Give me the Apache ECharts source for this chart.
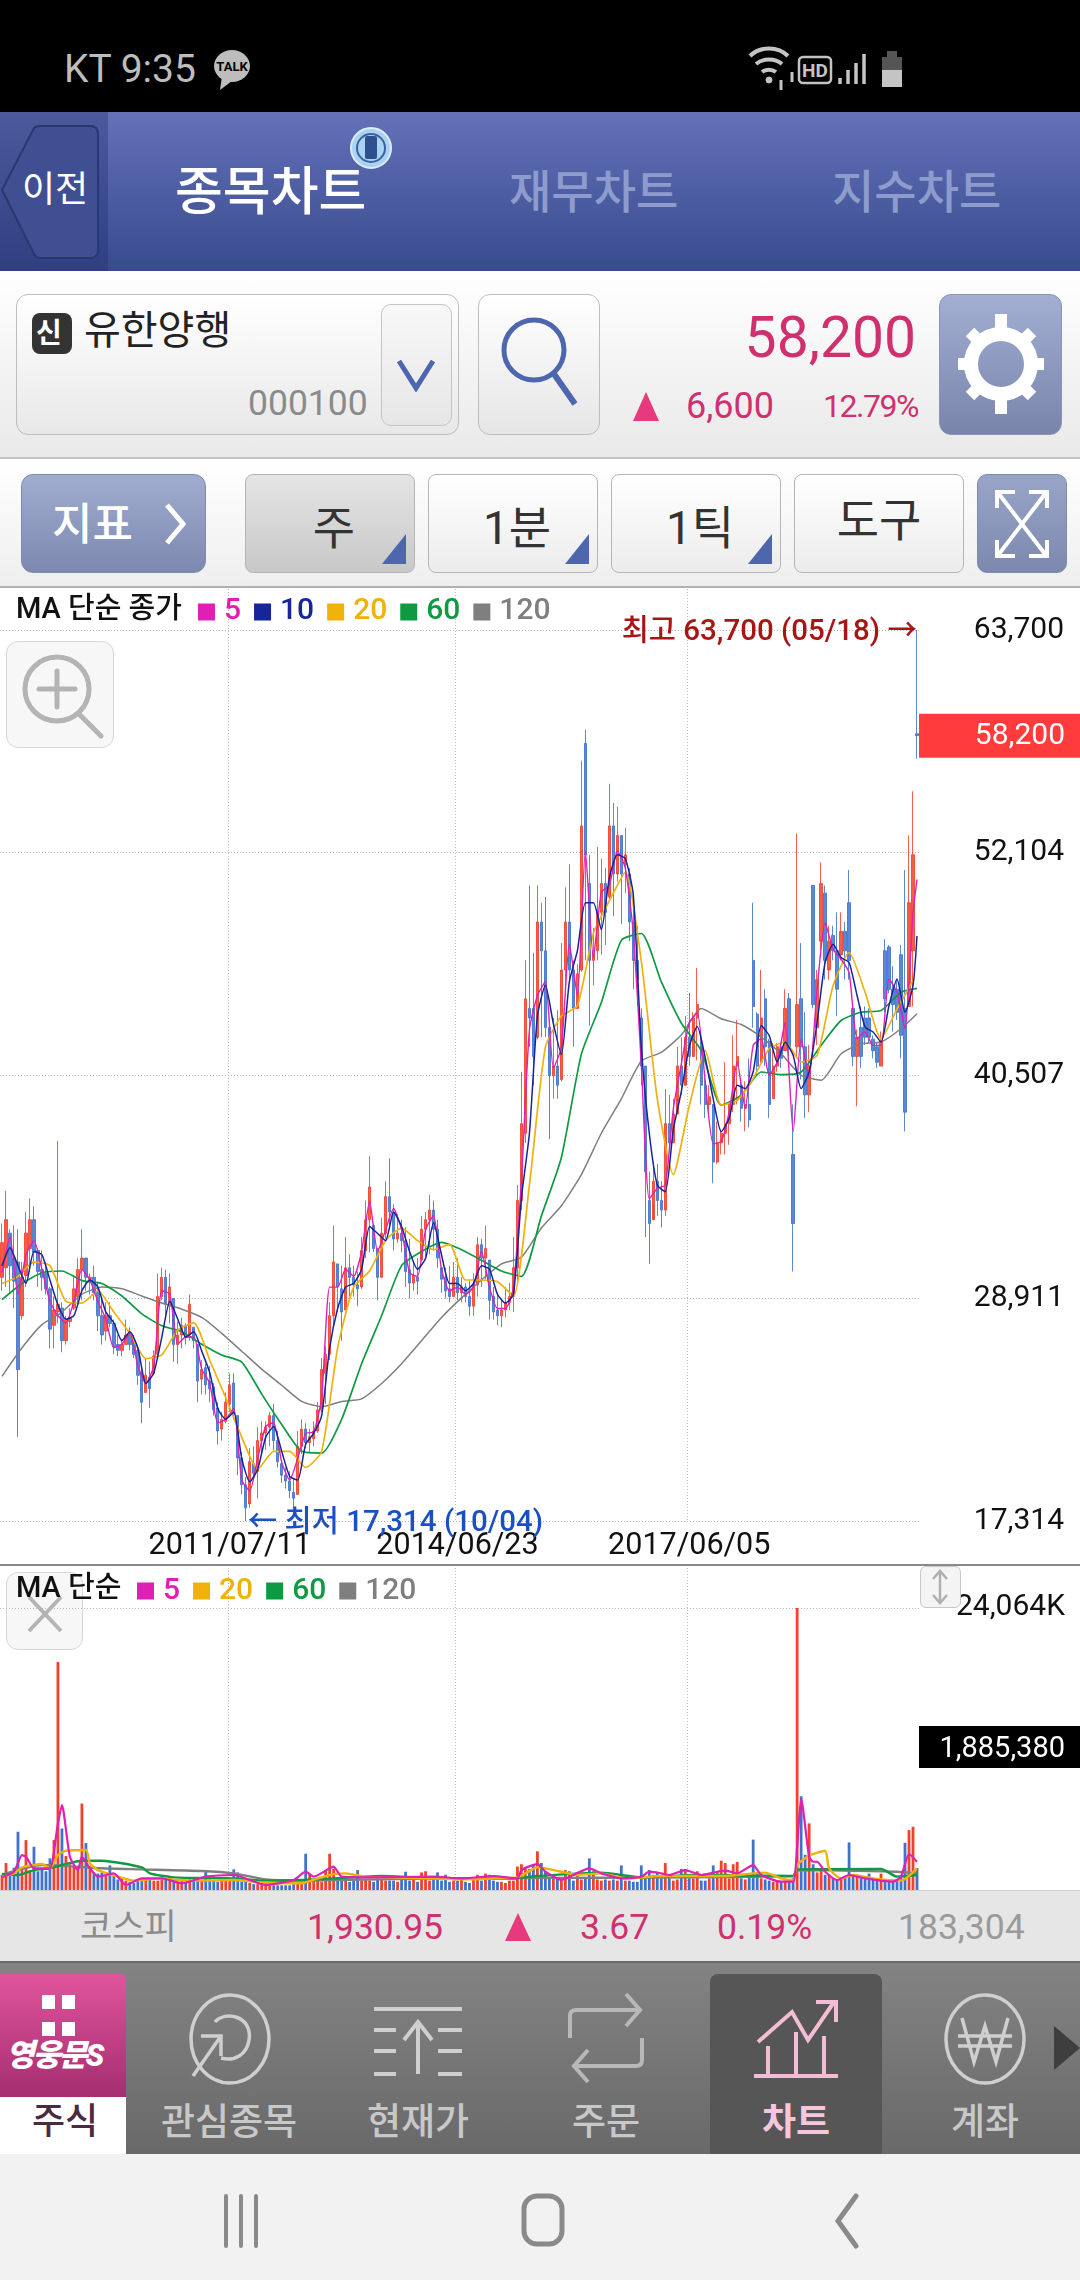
<!DOCTYPE html>
<html lang="ko">
<head>
<meta charset="utf-8">
<title>유한양행 종목차트</title>
<script src="https://cdn.jsdelivr.net/npm/echarts@6/dist/echarts.min.js"></script>
<style>
html,body{margin:0;padding:0;background:#fff}
#page{position:relative;width:1080px;height:2280px;overflow:hidden;font-family:Roboto,"Noto Sans CJK KR",sans-serif}
.b,.t,svg{position:absolute}
.b{box-sizing:border-box}
.t{white-space:nowrap;line-height:1}
.tool{top:474px;height:99px;border:1px solid #b5b5b5;border-radius:8px;background:linear-gradient(#fff,#ececec)}
.tool span{position:absolute;left:8px;right:0;top:30px;text-align:center;font-size:46px;line-height:1;color:#333}
.tool i{position:absolute;right:8px;bottom:8px;width:0;height:0;border-left:24px solid transparent;border-bottom:30px solid #4d66ae}
.nav{top:2104px;width:170px;text-align:center;font-size:37px;color:#c8c8c8;font-weight:500}
#chart{position:absolute;left:0;top:586px;width:1080px;height:1304px}
</style>
</head>
<body>
<div id="page">
  <!-- status bar -->
  <div class="b" style="left:0;top:0;width:1080px;height:112px;background:#000"></div>
  <div class="t" style="left:64px;top:50px;font-size:39px;color:#bdbdbd">KT 9:35</div>
  <svg style="left:212px;top:44px" width="40" height="48" viewBox="0 0 40 48"><ellipse cx="20" cy="22" rx="18" ry="16" fill="#bdbdbd"/><path d="M10 32l-2 14 12-9z" fill="#bdbdbd"/><text x="20" y="27" font-size="13" font-weight="700" text-anchor="middle" fill="#000">TALK</text></svg>
  <svg style="left:745px;top:42px" width="165" height="50" viewBox="0 0 165 50" fill="none" stroke="#c4c4c4"><path d="M5 14c10-10 28-10 38 0M11 22c7-6 19-6 26 0M17 30c4-3 10-3 14 0" stroke-width="4"/><circle cx="24" cy="38" r="3" fill="#c4c4c4"/><path d="M36 38v10M47 30v10" stroke-width="3"/><rect x="54" y="15" width="32" height="26" rx="4" stroke-width="2.5"/><text x="70" y="35" font-size="19" font-weight="700" text-anchor="middle" fill="#c4c4c4" stroke="none">HD</text><path d="M95 42v-6M103 42v-14M111 42v-21M119 42v-30" stroke-width="3.5"/><rect x="137" y="15" width="20" height="30" fill="#c4c4c4" stroke="none"/><rect x="137" y="15" width="20" height="13" fill="#555" stroke="none"/><rect x="142" y="9" width="10" height="6" fill="#555" stroke="none"/></svg>

  <!-- header tabs -->
  <div class="b" style="left:0;top:112px;width:1080px;height:159px;background:linear-gradient(#6472b8,#384a8e)"></div>
  <div class="b" style="left:0;top:112px;width:108px;height:159px;background:linear-gradient(#4a5a9c,#2f3f82)"></div>
  <svg style="left:0;top:124px" width="100" height="136" viewBox="0 0 100 136"><path d="M2 66L34 4q2-2 6-2h50q8 0 8 8v116q0 8-8 8H40q-4 0-6-4z" fill="#3f4f92" stroke="#2a3870" stroke-width="2"/></svg>
  <div class="t" style="left:22px;top:172px;font-size:36px;color:#fff">이전</div>
  <div class="t" style="left:175px;top:167px;font-size:52px;color:#fff;font-weight:500">종목차트</div>
  <div class="t" style="left:509px;top:169px;font-size:46px;color:#8e9bcd;font-weight:500">재무차트</div>
  <div class="t" style="left:832px;top:169px;font-size:46px;color:#8e9bcd;font-weight:500">지수차트</div>
  <svg style="left:349px;top:126px" width="44" height="44" viewBox="0 0 44 44"><circle cx="22" cy="22" r="20" fill="#a9d3f2" stroke="#dcedfa" stroke-width="2"/><circle cx="22" cy="22" r="14" fill="none" stroke="#3f5f9f" stroke-width="2"/><rect x="16" y="10" width="12" height="23" rx="2" fill="#2f4f8f"/></svg>

  <!-- stock row -->
  <div class="b" style="left:0;top:271px;width:1080px;height:188px;background:linear-gradient(#fff,#e9e9e9);border-bottom:2px solid #c4c4c4"></div>
  <div class="b" style="left:16px;top:294px;width:443px;height:141px;border:1px solid #bdbdbd;border-radius:12px;background:linear-gradient(#fff,#e8e8e8)"></div>
  <div class="b" style="left:32px;top:313px;width:40px;height:41px;border-radius:8px;background:#333"></div>
  <div class="t" style="left:36px;top:320px;font-size:28px;color:#fff;font-weight:700">신</div>
  <div class="t" style="left:84px;top:311px;font-size:40px;color:#222">유한양행</div>
  <div class="t" style="left:248px;top:386px;font-size:35.5px;color:#8a8a8a">000100</div>
  <div class="b" style="left:381px;top:304px;width:71px;height:122px;border:1px solid #c4c4c4;border-radius:10px;background:linear-gradient(#f8f8f8,#e6e6e6)"></div>
  <svg style="left:396px;top:358px" width="40" height="34" viewBox="0 0 40 34"><path d="M3 3l17 27L37 3" fill="none" stroke="#4d66ae" stroke-width="5"/></svg>
  <div class="b" style="left:478px;top:294px;width:122px;height:141px;border:1px solid #bdbdbd;border-radius:12px;background:linear-gradient(#fff,#e6e6e6)"></div>
  <svg style="left:498px;top:312px" width="84" height="100" viewBox="0 0 84 100" fill="none" stroke="#4d66ae"><circle cx="36" cy="38" r="30" stroke-width="5"/><path d="M56 62l21 30" stroke-width="6"/></svg>
  <div class="t" style="right:164px;top:309px;font-size:57px;color:#d0306f">58,200</div>
  <svg style="left:632px;top:392px" width="28" height="30"><path d="M14 0L27 29H1z" fill="#e8387e"/></svg>
  <div class="t" style="left:686px;top:388px;font-size:36px;color:#d0306f">6,600</div>
  <div class="t" style="left:823px;top:390px;font-size:32px;color:#d0306f;letter-spacing:-1.5px">12.79%</div>
  <div class="b" style="left:939px;top:294px;width:123px;height:141px;border:1px solid #8a94b4;border-radius:12px;background:linear-gradient(#a2aed2,#7984ab)"></div>
  <svg style="left:954px;top:310px" width="94" height="108" viewBox="0 0 94 108"><circle cx="47" cy="54" r="30" fill="none" stroke="#fff" stroke-width="14"/><g stroke="#fff" stroke-width="12"><path d="M47 4v14M47 90v14M4 54h14M76 54h14M16 22l10 10M68 76l10 10M78 22L68 32M26 76L16 86"/></g></svg>

  <!-- period row -->
  <div class="b" style="left:0;top:460px;width:1080px;height:126px;background:linear-gradient(#fff,#eee)"></div>
  <div class="b" style="left:21px;top:474px;width:185px;height:99px;border:1px solid #7f8ab0;border-radius:12px;background:linear-gradient(#a0acd0,#7d88ae)"></div>
  <div class="t" style="left:52px;top:503px;font-size:44px;color:#fff;font-weight:500">지표</div>
  <svg style="left:162px;top:502px" width="28" height="44"><path d="M5 3l16 19L5 41" fill="none" stroke="#fff" stroke-width="5"/></svg>
  <div class="b tool" style="left:245px;width:170px;background:linear-gradient(#e4e4e4,#c8c8c8)"><span>주</span><i></i></div>
  <div class="b tool" style="left:428px;width:170px"><span>1분</span><i></i></div>
  <div class="b tool" style="left:611px;width:170px"><span>1틱</span><i></i></div>
  <div class="b tool" style="left:794px;width:170px"><span style="left:0;top:22px">도구</span></div>
  <div class="b" style="left:977px;top:474px;width:90px;height:99px;border:1px solid #7f8ab0;border-radius:10px;background:linear-gradient(#98a4c8,#7d88ae)"></div>
  <svg style="left:993px;top:488px" width="58" height="72" viewBox="0 0 58 72" fill="none" stroke="#fff" stroke-width="4"><path d="M4 20V4h18M54 20V4H36M4 52v16h18M54 52v16H36M6 6l46 60M52 6L6 66"/></svg>

  <!-- buttons that sit under the chart text -->
  <div class="b" style="left:6px;top:1572px;width:77px;height:78px;border:1px solid #d6d6d6;border-radius:12px;background:#f7f7f7"></div>
  <svg style="left:26px;top:1594px" width="38" height="40"><path d="M3 3l32 34M35 3L3 37" stroke="#b4b4b4" stroke-width="4" fill="none"/></svg>

  <div id="chart"></div>

  <!-- chart overlay buttons -->
  <div class="b" style="left:0;top:586px;width:1080px;height:2px;background:#b0b0b0"></div>
  <div class="b" style="left:0;top:1564px;width:1080px;height:2px;background:#8a8a8a"></div>
  <div class="b" style="left:6px;top:641px;width:108px;height:107px;border:1px solid #d6d6d6;border-radius:12px;background:rgba(247,247,247,.95)"></div>
  <svg style="left:20px;top:652px" width="84" height="90" viewBox="0 0 84 90" fill="none" stroke="#b4b4b4" stroke-width="5"><circle cx="37" cy="37" r="32"/><path d="M19 37h36M37 19v36M59 62l22 22" stroke-linecap="round"/></svg>
  <div class="b" style="left:920px;top:1566px;width:41px;height:42px;border:1px solid #c8c8c8;border-radius:6px;background:#f4f4f4"></div>
  <svg style="left:930px;top:1569px" width="20" height="36"><path d="M10 2v32M3 10l7-8 7 8M3 26l7 8 7-8" stroke="#b0b0b0" stroke-width="2.5" fill="none"/></svg>

  <!-- index bar -->
  <div class="b" style="left:0;top:1890px;width:1080px;height:71px;background:#e6e6e6;border-top:1px solid #d0d0d0"></div>
  <div class="t" style="left:80px;top:1910px;font-size:35px;color:#8c8c8c">코스피</div>
  <div class="t" style="left:307px;top:1910px;font-size:35.5px;color:#d0306f">1,930.95</div>
  <svg style="left:504px;top:1913px" width="28" height="29"><path d="M14 0L27 28H1z" fill="#e8387e"/></svg>
  <div class="t" style="left:580px;top:1910px;font-size:35.5px;color:#d0306f">3.67</div>
  <div class="t" style="left:717px;top:1910px;font-size:35.5px;color:#d0306f">0.19%</div>
  <div class="t" style="left:898px;top:1910px;font-size:35.5px;color:#9a9a9a">183,304</div>

  <!-- bottom menu -->
  <div class="b" style="left:0;top:1961px;width:1080px;height:193px;background:linear-gradient(#838383,#696969);border-top:2px solid #6a6a6a"></div>
  <div class="b" style="left:710px;top:1974px;width:172px;height:180px;border-radius:8px 8px 0 0;background:#565656"></div>
  <div class="b" style="left:0;top:1974px;width:126px;height:123px;border-radius:0 6px 0 0;background:linear-gradient(#e0559c,#a52d70)"></div>
  <div class="b" style="left:0;top:2097px;width:126px;height:57px;background:#fff"></div>
  <svg style="left:42px;top:1992px" width="34" height="56"><path d="M0 0h13v14H0zM20 0h13v14H20zM0 27h13v14H0zM20 27h13v14H20z" fill="#fff" transform="translate(0,3)"/></svg>
  <div class="t" style="left:6px;top:2040px;font-size:31px;color:#fff;font-weight:900;font-style:italic;letter-spacing:-2px">영웅문S</div>
  <div class="t" style="left:32px;top:2104px;font-size:36px;color:#4a2b40;font-weight:500">주식</div>
  <svg style="left:185px;top:1992px" width="90" height="96" viewBox="0 0 90 96" fill="none" stroke="#cfcfcf" stroke-width="3.5"><ellipse cx="45" cy="47" rx="39" ry="44"/><path d="M30 30c10-12 38-6 34 18-2 14-14 22-28 18"/><path d="M8 84l28-40M16 44h20v20"/></svg>
  <svg style="left:372px;top:2006px" width="92" height="72" viewBox="0 0 92 72" fill="none" stroke="#cfcfcf" stroke-width="4"><path d="M2 3h88M2 24h22M66 24h24M2 45h22M66 45h24M2 68h22M66 68h24M46 68V18M32 34l14-18 14 18"/></svg>
  <svg style="left:568px;top:1992px" width="76" height="92" viewBox="0 0 76 92" fill="none" stroke="#b8b8b8" stroke-width="4"><path d="M2 46V24q0-6 6-6h62M58 2l14 16-14 16M74 46v22q0 6-6 6H8M20 58L6 74l14 16"/></svg>
  <svg style="left:752px;top:1996px" width="90" height="84" viewBox="0 0 90 84" fill="none" stroke="#f2bdd5" stroke-width="4"><path d="M6 46l34-30 16 28 26-38M64 6h20v20M2 80h84M16 80V50M44 80V36M72 80V40"/></svg>
  <svg style="left:942px;top:1992px" width="86" height="94" viewBox="0 0 86 94" fill="none" stroke="#cfcfcf" stroke-width="3.5"><ellipse cx="43" cy="47" rx="39" ry="44"/><path d="M20 26l12 44 11-36 11 36 12-44M16 44h54M16 54h54"/></svg>
  <svg style="left:1054px;top:2026px" width="26" height="44"><path d="M0 0l26 22L0 44z" fill="#3e3e3e"/></svg>
  <div class="t nav" style="left:144px">관심종목</div>
  <div class="t nav" style="left:333px">현재가</div>
  <div class="t nav" style="left:521px">주문</div>
  <div class="t nav" style="left:711px;color:#f6c6dc;font-weight:700">차트</div>
  <div class="t nav" style="left:900px">계좌</div>

  <!-- system nav -->
  <div class="b" style="left:0;top:2154px;width:1080px;height:126px;background:#f2f2f2"></div>
  <svg style="left:222px;top:2194px" width="40" height="54"><path d="M4 2v50M19 2v50M34 2v50" stroke="#8a8a8a" stroke-width="4" stroke-linecap="round"/></svg>
  <svg style="left:520px;top:2192px" width="48" height="58"><rect x="4" y="4" width="38" height="48" rx="13" fill="none" stroke="#8a8a8a" stroke-width="5"/></svg>
  <svg style="left:832px;top:2192px" width="30" height="58"><path d="M24 4L6 29l18 25" fill="none" stroke="#8a8a8a" stroke-width="5" stroke-linecap="round"/></svg>
</div>

<script>
// x tick positions on the category axis and the date text shown there
const tickIndex = [57, 114, 172];
const tickDates = ["2011/07/11", "2014/06/23", "2017/06/05"];
const priceTicks = [17314, 28911, 40507, 52104, 63700];
const lastPrice = 58200;

const opens = [
	30000,30500,32300,31000,30800,28000,30100,31500,33000,31400,
	30400,30200,29400,27500,28200,28400,26700,27700,28400,29000,
	30400,31000,29900,30000,29200,28000,27200,28000,27600,26500,
	26200,26500,27000,26700,26200,25000,24000,24800,25000,26000,
	29000,30000,28500,28900,26500,27000,27500,27000,27400,26500,
	24700,25300,24600,24300,23200,22100,22500,23400,24500,22800,
	20600,19200,18200,20300,19900,21500,21900,22200,22800,21500,
	20300,19700,19400,18800,18700,21200,22100,21400,21600,22000,
	23100,25000,26000,28000,30700,29400,28300,30500,30000,29600,
	29500,31400,33000,32700,31500,30000,32300,34200,33400,32000,
	32300,31900,30400,29700,30000,30900,32500,33000,33500,32500,
	30500,30000,29400,29000,30000,29200,29500,29000,28500,29600,
	31700,31000,30900,29000,28300,28000,28300,28700,29000,30500,
	34000,37500,44000,44000,42500,48500,47000,43000,40500,41000,
	40300,46000,48500,46000,44000,46000,57800,50500,46500,47000,
	49000,50500,49800,53500,51000,53000,51500,51000,48500,46500,
	43500,41000,34000,33000,35000,34000,33500,38000,37000,38500,
	41000,40000,42500,41500,43500,42000,40000,39000,39000,36000,
	37000,37500,38000,39000,41000,40000,38800,39000,46500,43700,
	41200,44500,42300,39300,41000,42000,41800,44500,36400,42000,
	44500,42000,39500,50400,43000,47500,50000,46000,47800,47000,
	46800,48000,49500,44000,41500,43000,43500,43500,42400,42000,
	41000,47000,47200,45000,45000,46800,44000,44100,47000,58300
];
const closes = [
	31800,33000,30600,29800,25200,30000,32300,33000,31300,30300,
	30000,29400,27300,28300,28600,26700,27800,27900,29400,30400,
	31000,30000,30000,29200,28000,27000,28000,27600,26400,26200,
	26500,27000,26500,26000,24900,23500,24900,24200,25900,29000,
	30000,28600,29500,26500,27000,27500,26900,28600,26700,24600,
	25200,24400,24200,23100,22000,22600,23500,24400,22900,20600,
	19200,18000,20400,19800,21500,21900,22200,22800,21500,20400,
	19700,19400,18900,18500,21200,22100,21400,21700,22000,23100,
	25200,26000,28000,30800,29500,28200,30500,30000,29600,29400,
	31400,33000,34700,31500,30000,32300,34200,33400,32000,32300,
	31900,30300,29700,30100,29800,32500,33000,33500,32500,31000,
	29900,29300,29000,30000,29200,29500,29000,28500,29600,31700,
	31000,31500,28800,28200,28000,28300,28700,29000,30500,34000,
	38000,44500,43500,41500,48500,47000,43000,40500,41000,40000,
	46000,48500,46000,44000,45800,53500,52000,46500,47000,49000,
	50500,49000,53500,51000,53000,51000,52000,48500,46500,45500,
	41000,35500,32800,35000,34000,33500,38000,37000,38500,41000,
	40000,42500,41500,43500,44200,40000,39000,39400,36000,37000,
	37500,38000,39000,41000,41500,38800,39000,38200,44100,41000,
	43500,42000,39000,41000,42000,41400,44000,42000,32800,44200,
	42000,39500,41000,44200,45500,50500,46500,47500,47000,45000,
	48000,47000,46500,41500,42500,41500,42500,42500,41800,41200,
	42300,44500,45000,44200,43800,42600,38600,49500,52000,58200
];
const lows = [
	29300,29500,29200,28400,21700,27800,29500,30300,30600,29500,
	29300,29100,26300,26300,27600,26100,26500,27400,28300,28600,
	28800,29300,29100,28800,27200,26500,26700,27400,26000,25900,
	25900,26500,26200,25800,24400,22400,24000,23200,24900,25900,
	28800,28000,27600,25600,25500,26300,26500,26700,26300,23500,
	23900,23900,23500,22800,21300,21500,22400,23000,22600,19700,
	18700,17314,18000,19400,18500,20800,21000,21200,21000,20100,
	19300,19000,18500,18000,18700,20800,21100,20900,21200,21900,
	23000,23400,25700,27400,28200,26700,28300,29000,29000,28500,
	29400,31000,31300,31300,28800,30000,32000,32500,31400,31800,
	31300,29500,28900,29300,29100,30900,31000,31200,31400,30500,
	29200,28900,28700,29000,28800,28700,28700,28000,28000,29000,
	29500,29900,27800,27800,27500,27400,27900,28300,28200,29800,
	33500,37000,42000,40000,42400,42500,42500,37200,39300,39300,
	40200,45000,45400,42000,44100,45900,46500,43100,45200,46500,
	46800,47300,49700,48800,50600,48400,50000,47500,45000,44100,
	40000,32100,30700,33800,33200,32600,33200,36600,37000,39300,
	39500,40900,41000,42000,41300,39000,38300,38500,34900,35900,
	36400,36400,36900,38600,39000,38100,37600,37800,43000,40500,
	41200,41000,38300,39300,40700,40900,41800,41500,30300,41500,
	40300,38300,38600,44000,42100,47000,45500,45500,46500,43600,
	46500,45500,45500,41000,38900,40900,42100,42200,41400,40900,
	41000,43800,44800,42800,43400,41400,37600,44100,44100,57000
];
const highs = [
	32800,34500,32500,32700,32500,30800,33400,34100,33700,31500,
	31400,30800,29500,29000,37100,28700,28000,28400,30000,31000,
	32500,31000,30200,30600,29700,29000,28700,28700,27800,27000,
	26800,27800,27400,27000,26500,25400,25800,25600,26200,30200,
	30500,30400,30200,28900,27700,27900,27600,29100,27400,26500,
	25700,25500,25400,24500,23500,23000,24000,25000,25000,22800,
	20900,19600,21100,21200,22200,22500,22500,23000,23400,22000,
	20500,20100,19900,19500,22000,22600,22400,22100,22500,23500,
	25800,26400,28700,32700,30700,30600,32100,31200,30600,30300,
	32100,34000,36300,32800,31500,33100,35000,36200,33800,33300,
	33000,32600,32000,30800,31000,33200,33400,34300,34000,33000,
	30500,30500,30600,30800,31000,30000,29700,29800,30200,32100,
	32000,32700,30900,29500,29200,28800,29500,29700,32100,34800,
	40700,46500,50400,46900,50400,49500,49800,43400,43500,43900,
	47400,50300,51500,46500,46300,56900,58500,52000,48200,52400,
	51800,51300,55700,54700,54500,53000,53400,51300,49300,48300,
	44000,41000,35500,36000,35900,35000,39800,39500,39300,42000,
	42500,43600,44800,43800,46100,42500,40700,40000,39000,38100,
	37700,41200,39100,42600,43400,40200,40200,41400,49500,43800,
	46000,45000,42400,42200,42200,42200,45000,44800,39000,53100,
	47400,43800,42100,50400,46000,51600,50400,48300,48300,49000,
	49000,48500,51200,44300,42900,44100,44100,44000,42600,42200,
	42800,47600,47300,46200,45500,47300,51200,53000,55300,63700
];

const ma5 = [
	30240,32100,29120,31170,31910,30420,28750,28000,27630,28750,
	30420,29860,28750,27820,26330,26520,27080,25400,24470,25400,
	29300,29120,26520,26890,26890,25220,24470,22430,22610,23170,
	19450,18900,20570,22240,22430,20380,19450,20570,21870,21960,
	23730,29490,29490,30420,30050,31350,33950,31350,32470,33580,
	32470,30240,30050,32470,33210,30420,29300,29490,29120,29490,
	31350,29490,28380,28380,29490,35070,
	42880,44670,45390,40900,41980,47360,44670,52200,46640,50050,
	50400,52200,51300,47900,41090,34090,34630,34810,38750,41090,
	43240,43770,40190,36960,
	37070,38620,41210,38790,42075,42420,40520,41210,43280,37590,
	42420,40350,45010,48460,47080,46560,45870,42420,42770,42075,
	42075,45530,44840,42940,48980,50710
];
const ma10 = [
	30600,31540,30600,29680,31350,31170,29860,28560,27820,28000,
	29300,29860,29490,28190,27630,26700,27170,26330,24470,25030,
	26890,28750,27820,26890,27170,26150,25030,23170,22610,22990,
	20570,19360,20010,21680,22240,20940,19640,19450,21310,21870,
	22800,26330,28380,29490,29680,30420,32650,32280,31910,33400,
	32650,31350,30420,30980,32840,31170,29680,29680,29300,29680,
	30600,30420,29120,28660,29120,34140,
	37500,43600,45200,43200,41600,45400,47000,49500,49500,48100,
	50800,52000,51800,49900,42000,37500,34800,34450,37680,39650,
	42000,43060,41440,39290,
	37580,38280,40000,39830,40700,43110,42590,41210,42250,41560,
	39830,40700,43280,46390,47340,46650,46390,44670,43030,42770,
	42250,44150,45530,43800,45180,47770
];
const ma20 = [
	29680,30050,30790,30610,28750,28660,29300,28190,27080,25770,
	25960,27260,27630,25680,23730,21680,20010,20940,20940,20100,
	20940,26330,29490,30330,31910,32560,31910,31440,31720,29860,
	29860,29770,29030,
	34810,41980,43600,44130,47900,49600,51100,46460,39290,35350,
	38930,41800,
	38960,39220,40350,41900,42250,41210,41560,45180,46910,44840,
	42420,43970,45440
];
const ma60 = [
	28840,29680,30240,30330,29830,29680,29030,28100,27480,27170,
	26520,25960,25590,23920,22340,20940,20850,22610,25500,28000,
	30610,31350,31820,31440,30890,30330,
	30050,33200,36240,41620,44310,47540,47900,45390,43240,41800,
	38970,39480,40690,40550,40690,42075,43370,43800,43890,44840,
	45040
];
const ma120 = [
	24840,26330,27540,28190,29120,29490,29400,29030,28660,28340,
	27910,27080,26150,25220,24380,23540,23260,23540,23670,24470,
	25500,26700,27910,28930,29860,30700,
	31050,32570,33730,35350,37500,39290,41260,41710,42610,43990,
	43460,43160,42510,41640,40520,40260,41640,42160,42250,42940,
	43720
];

// volume in thousands of shares, one value per bar
const volumes = [
	1300,2300,1400,1900,4970,1700,4260,1700,3690,1600,
	1700,1600,2700,4260,19450,5250,2900,2200,2000,1900,
	7380,4000,2000,1500,1400,1500,1200,2100,1300,900,
	1100,800,700,600,800,800,800,900,800,800,
	900,900,800,700,600,800,700,1000,900,900,
	900,1700,900,800,700,800,900,900,1760,1500,
	700,800,600,500,500,600,500,400,400,400,
	400,400,400,500,600,700,3100,1400,800,800,
	700,1700,3100,1800,1000,900,800,700,800,1700,
	800,900,800,700,1000,900,800,800,800,700,
	900,1560,800,900,700,1500,1600,800,900,1500,
	800,1300,700,800,800,1000,700,600,900,1300,
	800,1400,1300,800,700,700,600,800,800,2000,
	2200,1800,1800,2200,3300,2300,1600,1100,1000,1000,
	1100,1700,1600,800,1500,900,1000,2700,1600,900,
	800,900,800,900,800,2100,800,800,700,700,
	2100,1200,1700,1300,1500,1000,2300,1300,800,900,
	1800,1800,1000,1000,1600,800,800,1000,2100,1600,
	2500,2300,1000,2200,2400,1000,900,1200,4300,1500,
	1000,900,800,700,700,700,800,700,1000,24064,
	8000,3000,5680,2200,1500,1700,1300,1300,1000,900,
	1000,1100,4060,1300,1200,1100,1100,1400,1000,900,
	1400,900,800,900,800,1100,4030,5110,5400,1885
];
const volTop = 24064;
const lastVolumeText = "1,885,380";
const volBadgeLevel = 12200;

const volMa5At = [0,3,5,6,8,10,12,14,15,17,19,20,22,24,26,28,31,35,40,45,51,58,66,73,76,78,82,83,85,92,108,115,123,129,130,134,136,140,147,150,155,160,162,165,167,171,175,179,181,184,188,190,195,198,199,200,202,203,204,206,209,212,216,223,225,227,229];
const volMa5 = [1100,1560,2980,2840,1850,1850,1850,5680,7240,2840,1700,2840,1850,1140,1280,1420,430,990,990,570,1140,1280,430,850,1560,1140,1850,1990,1140,1080,1140,990,1190,990,1700,2210,1560,880,1850,1420,990,1140,1560,1420,1280,1700,1280,1560,1650,1420,2130,1280,710,710,3690,7810,2840,2410,2410,1560,850,1280,990,710,1140,3070,2410];
const volMa20At = [0,3,5,8,10,12,14,16,21,22,24,29,33,40,44,50,58,66,75,79,83,86,91,108,115,123,129,131,134,140,144,150,156,165,173,181,188,191,195,198,199,202,206,207,210,213,218,225,229];
const volMa20 = [1140,1420,1940,2130,2220,1850,2980,3350,3410,2270,1700,1140,800,990,850,800,850,620,570,990,1360,1420,1140,990,910,990,1080,1420,1940,1560,1280,1420,990,1190,1190,1190,1420,1480,990,850,2130,2930,3350,1850,990,1280,990,800,1850];
const volMa60At = [0,4,8,12,15,20,25,35,37,43,58,66,75,83,95,104,115,127,134,150,160,173,198,199,220,224,229];
const volMa60 = [1360,1280,1700,1850,2130,2500,2500,1930,1420,1080,990,800,850,990,1190,1080,990,970,1190,1480,1080,1280,1190,1760,1790,1140,1280];
const volMa120At = [0,10,16,25,35,50,58,66,75,83,115,198,199,224,229];
const volMa120 = [1300,2130,2040,1850,1760,1620,1420,900,800,850,990,1190,1700,1560,1420];

const colors = { 5: "#e01fb4", 10: "#16259a", 20: "#efb10a", 60: "#0e9a42", 120: "#7f7f7f" };
const upColor = "#f2402c";
const downColor = "#3f72cc";
const font = "Roboto, 'Noto Sans CJK KR', sans-serif";

const categories = opens.map((_, i) => String(i));
const lastBar = opens.length - 1;
const sampled = (arr, step) => arr.map((v, k) => [Math.min(k * step, lastBar), v]);
const paired = (at, arr) => arr.map((v, k) => [at[k], v]);
const isTick = (i) => tickIndex.includes(i);

const maLine = (name, data, width, xAxisIndex) => ({
	name,
	type: "line",
	data,
	xAxisIndex,
	yAxisIndex: xAxisIndex,
	symbol: "none",
	smooth: 0.2,
	silent: true,
	lineStyle: { color: colors[name], width },
	itemStyle: { color: colors[name] }
});
const legendItem = (name) => ({ name, icon: "rect", textStyle: { color: colors[name] } });
const makeLegend = (left, top, names) => ({
	left,
	top,
	data: names.map(legendItem),
	selectedMode: false,
	itemWidth: 17,
	itemHeight: 17,
	itemGap: 13,
	padding: 0,
	textStyle: { fontSize: 30, fontWeight: 500, fontFamily: font, padding: [0, 0, 0, 4] }
});
const axisText = { fontSize: 30, color: "#111", fontFamily: font };
const hiddenLine = { color: "rgba(0,0,0,0)", width: 1 };

const chart = echarts.init(document.getElementById("chart"), null, { renderer: "canvas" });
const gridStyle = { color: "#b9b9b9", width: 1, type: [1, 2] };
const xAxisBase = {
	type: "category",
	data: categories,
	axisLine: { show: false },
	axisTick: { show: false, alignWithLabel: true, interval: isTick },
	splitLine: { show: true, showMaxLine: false, interval: isTick, lineStyle: gridStyle }
};
const ySplit = { show: true, lineStyle: gridStyle };

chart.setOption({
	animation: false,
	title: [
		{ text: "MA 단순 종가", left: 16, top: 10, padding: 0, textStyle: { fontSize: 29, fontWeight: 500, color: "#111", fontFamily: font } },
		{ text: "MA 단순", left: 16, top: 989, padding: 0, textStyle: { fontSize: 29, fontWeight: 500, color: "#111", fontFamily: font } }
	],
	legend: [
		makeLegend(198, 11, ["5", "10", "20", "60", "120"]),
		makeLegend(137, 990, ["5", "20", "60", "120"])
	],
	grid: [
		{ left: 0, top: 0, width: 919, height: 935 },
		{ left: 0, top: 979, width: 919, height: 325 }
	],
	xAxis: [
		Object.assign({}, xAxisBase, {
			gridIndex: 0,
			axisLabel: Object.assign({}, axisText, {
				interval: isTick,
				margin: 10,
				fontSize: 30.5,
				formatter: (v, i) => tickDates[tickIndex.indexOf(i)] || ""
			})
		}),
		Object.assign({}, xAxisBase, { gridIndex: 1, axisLabel: { show: false } })
	],
	yAxis: [
		{
			gridIndex: 0,
			type: "value",
			position: "right",
			min: 17314,
			max: 65991,
			axisLine: { show: false },
			axisTick: { show: false, customValues: priceTicks },
			splitLine: ySplit,
			axisLabel: Object.assign({}, axisText, {
				customValues: priceTicks,
				align: "right",
				margin: 145,
				padding: [8, 0, 0, 0],
				formatter: (v) => v.toLocaleString("en-US")
			})
		},
		{
			gridIndex: 1,
			type: "value",
			position: "right",
			min: 0,
			max: 27733,
			axisLine: { show: false },
			axisTick: { show: false, customValues: [volTop] },
			splitLine: ySplit,
			axisLabel: Object.assign({}, axisText, {
				customValues: [volTop],
				align: "right",
				margin: 146,
				padding: [11, 0, 0, 0],
				formatter: (v) => v.toLocaleString("en-US") + "K"
			})
		}
	],
	series: [
		{
			name: "주",
			type: "candlestick",
			xAxisIndex: 0,
			yAxisIndex: 0,
			silent: true,
			barWidth: 2.8,
			data: opens.map((o, i) => [o, closes[i], lows[i], highs[i]]),
			itemStyle: { color: upColor, color0: downColor, borderColor: upColor, borderColor0: downColor, borderWidth: 1, opacity: 0.85 },
			markPoint: {
				silent: true,
				symbolSize: 0,
				animation: false,
				data: [
					{
						coord: [lastBar, 63700],
						label: { show: true, position: "left", distance: 0, offset: [0, 3], formatter: "최고 63,700 (05/18) →", color: "#a91414", fontSize: 29.5, fontWeight: 500, fontFamily: font }
					},
					{
						coord: [61, 17314],
						label: { show: true, position: "right", distance: 0, offset: [2, 3], formatter: "← 최저 17,314 (10/04)", color: "#1b4fc4", fontSize: 29.5, fontWeight: 500, fontFamily: font }
					}
				]
			},
			markLine: {
				silent: true,
				symbol: "none",
				animation: false,
				lineStyle: hiddenLine,
				data: [{ yAxis: lastPrice }],
				label: {
					position: "end",
					distance: 0,
					formatter: "{v|58,200}",
					backgroundColor: "#ff3b3b",
					padding: [8, 15, 6, 0],
					rich: { v: { width: 146, align: "right", fontSize: 30, color: "#fff", fontFamily: font, lineHeight: 30 } }
				}
			}
		},
		maLine("120", sampled(ma120, 5), 1.5, 0),
		maLine("60", sampled(ma60, 5), 1.7, 0),
		maLine("20", sampled(ma20, 4), 1.7, 0),
		maLine("5", sampled(ma5, 2), 1.4, 0),
		maLine("10", sampled(ma10, 2), 1.5, 0),
		{
			name: "거래량",
			type: "bar",
			xAxisIndex: 1,
			yAxisIndex: 1,
			silent: true,
			barWidth: 2.8,
			data: volumes.map((v, i) => ({
				value: v,
				itemStyle: { color: closes[i] >= opens[i] ? upColor : downColor }
			})),
			markLine: {
				silent: true,
				symbol: "none",
				animation: false,
				lineStyle: hiddenLine,
				data: [{ yAxis: volBadgeLevel }],
				label: {
					position: "end",
					distance: 0,
					formatter: "{v|" + lastVolumeText + "}",
					backgroundColor: "#000",
					padding: [9, 15, 3, 0],
					rich: { v: { width: 146, align: "right", fontSize: 29, color: "#fff", fontFamily: font, lineHeight: 30 } }
				}
			}
		},
		maLine("120", paired(volMa120At, volMa120), 2.4, 1),
		maLine("60", paired(volMa60At, volMa60), 2.4, 1),
		maLine("20", paired(volMa20At, volMa20), 2.4, 1),
		maLine("5", paired(volMa5At, volMa5), 2.2, 1)
	]
});
</script>
</body>
</html>
